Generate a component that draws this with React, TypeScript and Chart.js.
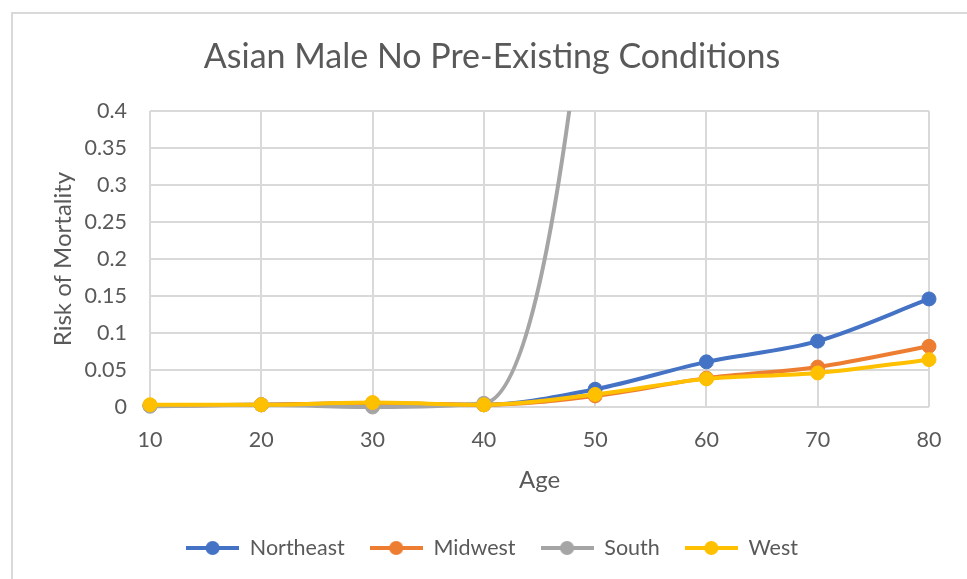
import { useEffect, useRef } from 'react';
import { Chart, registerables } from 'chart.js';

Chart.register(...registerables);

// Age groups on the horizontal axis
const ages = ['10', '20', '30', '40', '50', '60', '70', '80'];

// Risk of mortality per region
const northeast = [0.002, 0.003, 0.005, 0.003, 0.024, 0.061, 0.089, 0.146];
const midwest = [0.002, 0.003, 0.005, 0.003, 0.015, 0.039, 0.054, 0.082];
const south = [0.001, 0.003, 0.0, 0.005, 0.7, 3.0, 4.2, 5.5];
const west = [0.003, 0.003, 0.006, 0.003, 0.017, 0.038, 0.046, 0.064];

const seriesNames = ['Northeast', 'Midwest', 'South', 'West'];
const seriesValues = [northeast, midwest, south, west];
const seriesColors = ['#4472C4', '#ED7D31', '#A5A5A5', '#FFC000'];

// Vertical axis range
const yMin = 0;
const yMax = 0.4;
const yStep = 0.05;

const FONT = 'Lato, "Open Sans", sans-serif';
const TEXT = '#595959';
const GRID = '#d9d9d9';

// Legend swatch: short line with a marker in its middle
function makeLegendSwatch(color: string): HTMLCanvasElement {
  const c = document.createElement('canvas');
  c.width = 53;
  c.height = 16;
  const g = c.getContext('2d')!;
  g.strokeStyle = color;
  g.lineWidth = 4;
  g.beginPath();
  g.moveTo(0, 8);
  g.lineTo(53, 8);
  g.stroke();
  g.fillStyle = color;
  g.beginPath();
  g.arc(26.5, 8, 7, 0, Math.PI * 2);
  g.fill();
  return c;
}

export default function App() {
  const canvasRef = useRef<HTMLCanvasElement | null>(null);

  useEffect(() => {
    const canvas = canvasRef.current;
    if (!canvas) return;
    const swatches = seriesColors.map(makeLegendSwatch);

    const datasets = seriesNames.map((name, i) => ({
      label: name,
      data: seriesValues[i],
      borderColor: seriesColors[i],
      backgroundColor: seriesColors[i],
      borderWidth: 4,
      pointRadius: 7,
      pointBorderWidth: 1,
      pointHoverRadius: 7,
      cubicInterpolationMode: 'monotone',
      // later series sit on top
      order: seriesNames.length - i,
      clip: { left: 12, top: 0, right: 12, bottom: 12 },
    }));

    const chart = new Chart(canvas, {
      type: 'line',
      data: { labels: ages, datasets },
      options: {
        animation: false,
        responsive: false,
        maintainAspectRatio: false,
        events: [],
        elements: { line: { capBezierPoints: false } },
        layout: { padding: { left: 55, right: 38, top: 0, bottom: 10.25 } },
        plugins: {
          tooltip: { enabled: false },
          title: {
            display: true,
            text: 'Asian Male No Pre-Existing Conditions',
            color: TEXT,
            font: { family: FONT, size: 34, weight: 'normal' },
            padding: { top: 36.6, bottom: 33.6 },
          },
          legend: {
            display: true,
            position: 'bottom',
            labels: {
              usePointStyle: true,
              pointStyleWidth: 53,
              padding: 25,
              color: TEXT,
              font: { family: FONT, size: 21.5 },
              sort: (a: any, b: any) => a.datasetIndex - b.datasetIndex,
              generateLabels: (c: any) =>
                Chart.defaults.plugins.legend.labels
                  .generateLabels(c)
                  .map((item: any) => ({ ...item, pointStyle: swatches[item.datasetIndex] })),
            },
          },
        },
        scales: {
          x: {
            type: 'category',
            offset: false,
            grid: { color: GRID, lineWidth: 2, drawTicks: false, offset: false },
            border: { display: false },
            ticks: {
              color: TEXT,
              font: { family: FONT, size: 21.5 },
              padding: 20,
              maxRotation: 0,
            },
            title: {
              display: true,
              text: 'Age',
              color: TEXT,
              font: { family: FONT, size: 24 },
              padding: { top: 0, bottom: 17.85 },
            },
            afterFit: (scale: any) => {
              scale.height = 105.25;
            },
          },
          y: {
            min: yMin,
            max: yMax,
            grid: { color: GRID, lineWidth: 2, drawTicks: false },
            border: { display: false },
            ticks: {
              stepSize: yStep,
              color: TEXT,
              font: { family: FONT, size: 21.5 },
              padding: 23,
              callback: (v: any) => String(+Number(v).toFixed(2)),
            },
            title: {
              display: true,
              text: 'Risk of Mortality',
              color: TEXT,
              font: { family: FONT, size: 24 },
              padding: { top: -6.4, bottom: 0 },
            },
            afterFit: (scale: any) => {
              scale.width = 95;
            },
          },
        },
      },
    } as any);

    return () => chart.destroy();
  }, []);

  return (
    <div
      style={{
        position: 'fixed',
        left: 0,
        top: 0,
        width: 967,
        height: 579,
        overflow: 'hidden',
        background: '#ffffff',
      }}
    >
      <div
        style={{
          position: 'absolute',
          left: 11,
          top: 12,
          width: 2000,
          height: 2000,
          border: '2px solid #d9d9d9',
        }}
      />
      <canvas
        ref={canvasRef}
        width={967}
        height={579}
        style={{ position: 'absolute', left: 0, top: 0 }}
      />
    </div>
  );
}
